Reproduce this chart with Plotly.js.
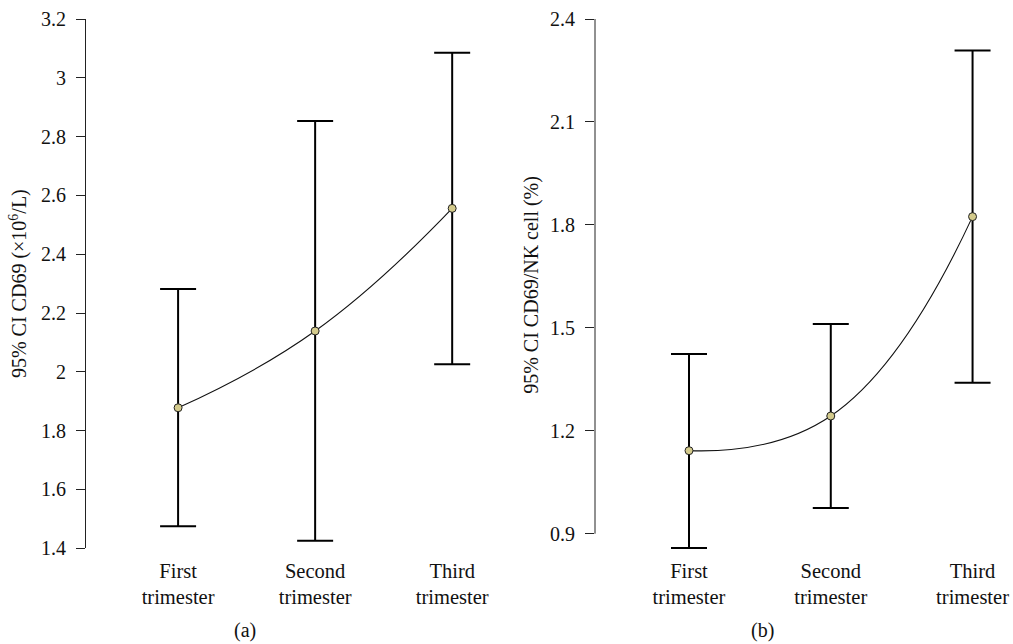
<!DOCTYPE html>
<html>
<head>
<meta charset="utf-8">
<script src="https://cdn.plot.ly/plotly-3.0.1.min.js"></script>
<style>html,body{margin:0;padding:0;background:#fff;}#chart{width:1013px;height:644px;}</style>
</head>
<body>
<div id="chart"></div>
<script>
// ---- data ----
const categories = ['First<br>trimester', 'Second<br>trimester', 'Third<br>trimester'];
const cd69Mean  = [1.878, 2.139, 2.556];
const cd69Lower = [1.475, 1.426, 2.026];
const cd69Upper = [2.282, 2.853, 3.085];
const pctMean  = [1.142, 1.243, 1.824];
const pctLower = [0.858, 0.975, 1.340];
const pctUpper = [1.424, 1.511, 2.308];
const panelLabels = ['(a)', '(b)'];
const yTitleA = '95% CI CD69 (×10<sup>6</sup>/L)';
const yTitleB = '95% CI CD69/NK cell (%)';

// ---- helpers ----
const W = 1013, H = 644;
const px = v => v / W;
const py = v => (H - v) / H;
const FONT = 'Liberation Serif, Times New Roman, serif';
const plus = (u, m) => u.map((v, i) => v - m[i]);
const minus = (l, m) => m.map((v, i) => v - l[i]);

function trace(mean, lower, upper, xa, ya) {
  return {
    type: 'scatter', mode: 'lines+markers', x: categories, y: mean,
    xaxis: xa, yaxis: ya,
    line: {shape: 'spline', smoothing: 1.3, color: '#111', width: 1.1},
    marker: {symbol: 'circle', size: 8, color: '#d4cb8c', line: {color: '#222', width: 1}},
    error_y: {type: 'data', symmetric: false, array: plus(upper, mean), arrayminus: minus(lower, mean),
              color: '#000', thickness: 2, width: 18},
    hoverinfo: 'y', showlegend: false
  };
}

const data = [
  trace(cd69Mean, cd69Lower, cd69Upper, 'x', 'y'),
  trace(pctMean, pctLower, pctUpper, 'x2', 'y2')
];

const xCommon = {
  type: 'category', showline: false, showgrid: false, zeroline: false, ticks: '',
  tickfont: {family: FONT, size: 20.5, color: '#111'}, anchor: 'free', position: py(548.3),
  ticklabelstandoff: 8, fixedrange: true
};
const yCommon = {
  showgrid: false, zeroline: false, ticks: 'outside', ticklen: 9, tickcolor: '#222', tickwidth: 1,
  tickfont: {family: FONT, size: 20, color: '#111'}, ticklabelstandoff: 6
};

const layout = {
  width: W, height: H, margin: {l: 0, r: 0, t: 0, b: 0},
  paper_bgcolor: '#fff', plot_bgcolor: '#fff',
  font: {family: FONT, size: 20, color: '#111'},
  xaxis: Object.assign({}, xCommon, {domain: [px(86), px(507)], range: [-0.672, 2.4]}),
  xaxis2: Object.assign({}, xCommon, {domain: [px(595), px(1008)], range: [-0.663, 2.25]}),
  yaxis: Object.assign({}, yCommon, {
    domain: [py(548.3), py(19)], range: [1.4, 3.2], tick0: 1.4, dtick: 0.2,
    showline: true, linecolor: '#222', linewidth: 1, anchor: 'x',
    title: {text: yTitleA, font: {family: FONT, size: 20, color: '#111'}, standoff: 8}
  }),
  yaxis2: Object.assign({}, yCommon, {
    domain: [py(550.85), py(19)], range: [0.85, 2.4], tick0: 0.9, dtick: 0.3,
    showline: false, anchor: 'x2',
    title: {text: yTitleB, font: {family: FONT, size: 20, color: '#111'}, standoff: 5}
  }),
  shapes: [
    {type: 'line', xref: 'x2 domain', yref: 'y2', x0: 0, x1: 0, y0: 0.9, y1: 2.4,
     line: {color: '#222', width: 1}}
  ],
  annotations: [
    {text: panelLabels[0], xref: 'paper', yref: 'paper', x: px(245), y: py(630), showarrow: false,
     xanchor: 'center', yanchor: 'middle', font: {family: FONT, size: 20, color: '#111'}},
    {text: panelLabels[1], xref: 'paper', yref: 'paper', x: px(762), y: py(630), showarrow: false,
     xanchor: 'center', yanchor: 'middle', font: {family: FONT, size: 20, color: '#111'}}
  ]
};

Plotly.newPlot('chart', data, layout, {displayModeBar: false, staticPlot: true});
</script>
</body>
</html>
